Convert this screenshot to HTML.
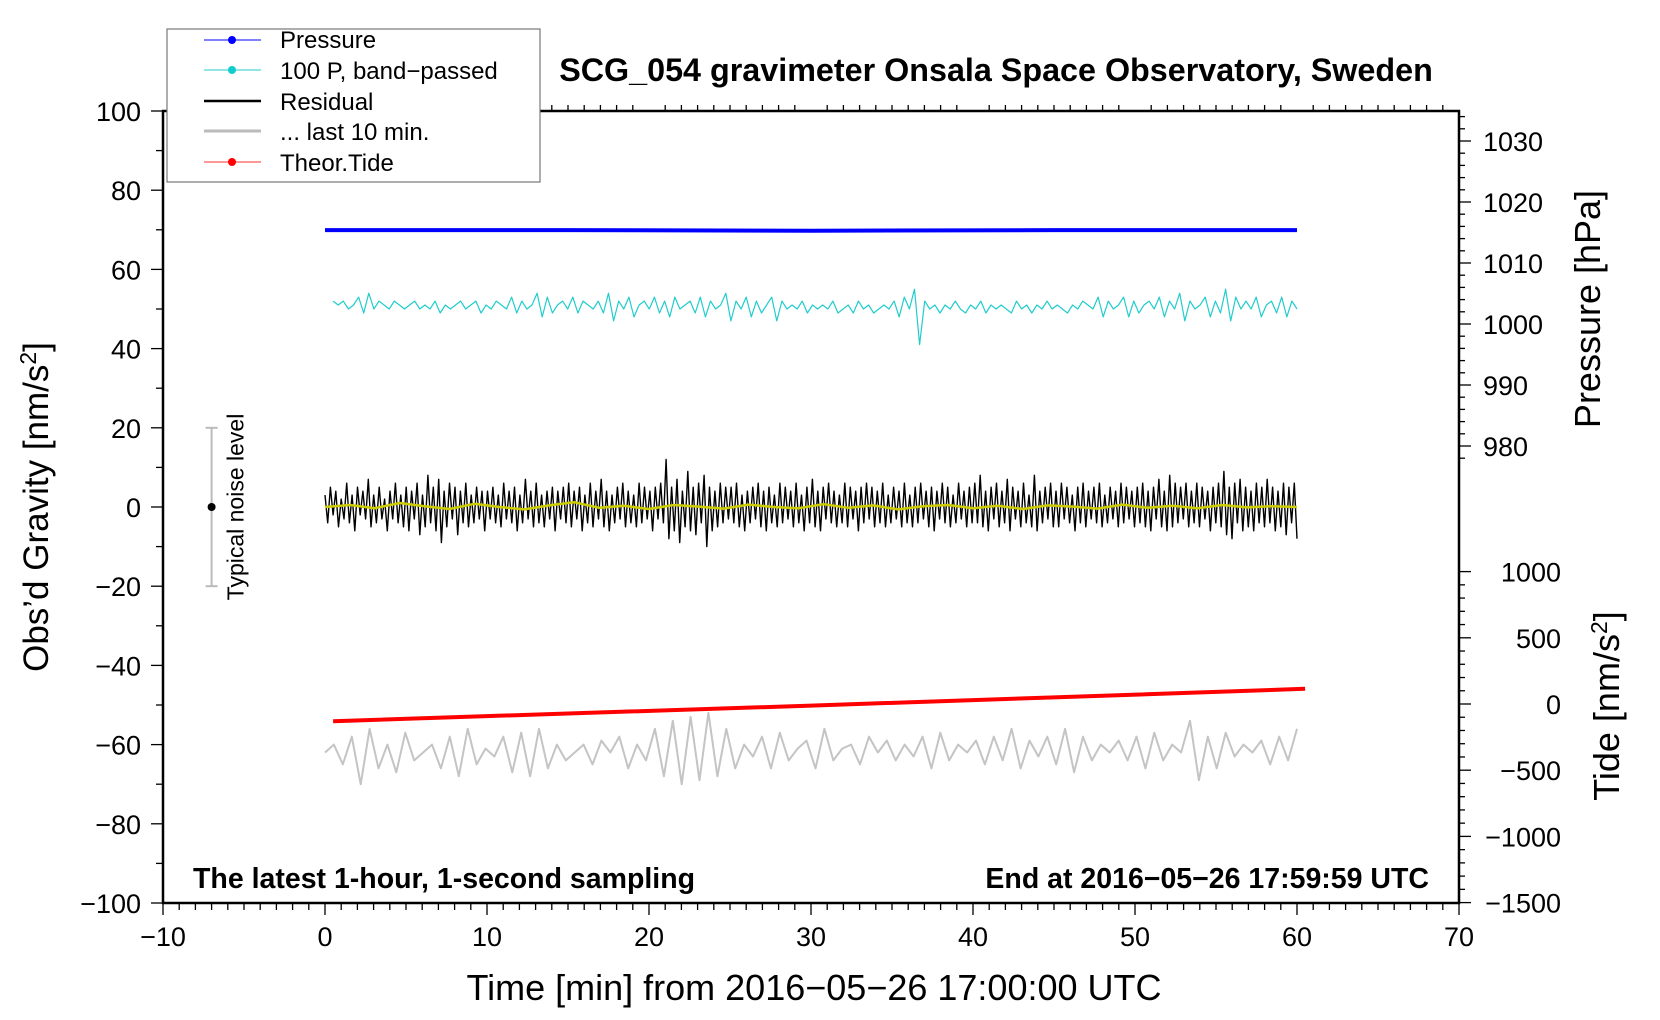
<!DOCTYPE html>
<html><head><meta charset="utf-8">
<style>
html,body{margin:0;padding:0;background:#fff;}
svg{display:block;font-family:"Liberation Sans",Arial,sans-serif;}
</style></head>
<body>
<svg id="chart" width="1660" height="1020" viewBox="0 0 1660 1020" xmlns="http://www.w3.org/2000/svg">
<rect x="0" y="0" width="1660" height="1020" fill="#fff"/>
<g id="marks"></g>
<g id="axes"></g>
<text x="996" y="81" text-anchor="middle" font-size="32.3" font-weight="bold">SCG_054 gravimeter Onsala Space Observatory, Sweden</text>
<text x="193" y="888" font-size="28.5" font-weight="bold">The latest 1-hour, 1-second sampling</text>
<text x="1429" y="888" text-anchor="end" font-size="28.5" font-weight="bold">End at 2016−05−26 17:59:59 UTC</text>
<text x="814" y="1000" text-anchor="middle" font-size="36">Time [min] from 2016−05−26 17:00:00 UTC</text>
<text transform="translate(48,507) rotate(-90)" text-anchor="middle" font-size="35">Obs’d Gravity [nm/s<tspan font-size="23" dy="-12">2</tspan><tspan dy="12">]</tspan></text>
<text transform="translate(1600,309) rotate(-90)" text-anchor="middle" font-size="36">Pressure [hPa]</text>
<text transform="translate(1619,706) rotate(-90)" text-anchor="middle" font-size="36">Tide [nm/s<tspan font-size="23" dy="-12">2</tspan><tspan dy="12">]</tspan></text>
<g>
<rect x="167" y="29" width="373" height="153" fill="#fff" stroke="#777" stroke-width="1.2"/>
<line x1="204" y1="40" x2="261" y2="40" stroke="#00f" stroke-width="1"/><circle cx="232" cy="40" r="4" fill="#00f"/>
<text x="280" y="48" font-size="24">Pressure</text>
<line x1="204" y1="70" x2="261" y2="70" stroke="#2cc" stroke-width="1"/><circle cx="232" cy="70" r="4" fill="#1cc"/>
<text x="280" y="79" font-size="24">100 P, band−passed</text>
<line x1="204" y1="101" x2="261" y2="101" stroke="#000" stroke-width="2.5"/>
<text x="280" y="110" font-size="24">Residual</text>
<line x1="204" y1="131" x2="261" y2="131" stroke="#bbb" stroke-width="3"/>
<text x="280" y="140" font-size="24">... last 10 min.</text>
<line x1="204" y1="162" x2="261" y2="162" stroke="#f33" stroke-width="1"/><circle cx="232" cy="162" r="4" fill="#f00"/>
<text x="280" y="171" font-size="24">Theor.Tide</text>
</g>
<g>
<line id="nl" stroke="#bbb" stroke-width="2"/>
<line id="nlt" stroke="#bbb" stroke-width="2"/>
<line id="nlb" stroke="#bbb" stroke-width="2"/>
<circle id="nld" r="4" fill="#000"/>
<text id="nltext" font-size="23" text-anchor="middle">Typical noise level</text>
</g>
</svg>
<script>
const xTicks=[-10,0,10,20,30,40,50,60,70];
const yTicks=[100,80,60,40,20,0,-20,-40,-60,-80,-100];
const pTicks=[980,990,1000,1010,1020,1030];
const tideTicks=[1000,500,0,-500,-1000,-1500];
const pressureT=[0,15,30,45,60];
const pressureV=[1015.4,1015.4,1015.3,1015.4,1015.4];
const tideT=[0.5,15,30,45,60.5];
const tideV=[-130,-72,-12,50,115];
const residual=[3,-4,5,-2,4,-5,2,-3,6,-4,3,-6,5,-2,4,-3,7,-5,3,-4,5,-3,2,-6,4,-3,6,-4,3,-5,
5,-6,4,-3,6,-7,3,-5,8,-4,5,-6,7,-9,4,-5,6,-3,5,-7,4,-4,6,-5,3,-4,5,-3,4,-6,
4,-3,5,-4,3,-5,6,-3,4,-4,5,-6,3,-4,7,-3,4,-5,6,-4,3,-5,4,-3,5,-6,4,-3,5,-4,
6,-5,4,-3,5,-6,3,-4,6,-5,4,-3,7,-5,4,-6,3,-4,5,-3,6,-5,4,-4,3,-5,6,-4,5,-3,
4,-6,5,-3,6,-4,12,-8,5,-6,7,-9,4,-5,9,-6,5,-7,6,-4,8,-10,5,-6,4,-5,6,-4,5,-3,
5,-4,6,-5,3,-6,4,-4,5,-3,6,-5,4,-6,5,-4,3,-5,6,-4,5,-3,4,-5,6,-4,3,-6,5,-4,
7,-5,4,-6,5,-3,6,-4,4,-5,3,-4,6,-5,5,-3,4,-6,5,-4,6,-3,5,-5,4,-4,6,-5,3,-4,
5,-3,4,-5,6,-4,3,-5,5,-4,6,-3,4,-5,5,-6,4,-3,6,-4,5,-5,3,-4,6,-3,4,-5,5,-4,
6,-4,8,-5,4,-6,5,-3,6,-5,4,-4,7,-6,5,-3,4,-5,6,-4,3,-5,8,-6,4,-4,5,-3,6,-5,
4,-5,6,-3,5,-4,3,-6,5,-4,6,-5,4,-3,5,-4,6,-5,3,-4,5,-3,4,-5,6,-4,5,-3,4,-5,
5,-4,6,-5,4,-6,5,-3,7,-5,4,-6,8,-5,6,-4,5,-3,6,-5,4,-4,6,-5,5,-3,4,-6,5,-4,
6,-5,9,-7,5,-8,6,-4,7,-6,5,-5,4,-6,6,-4,5,-5,7,-4,5,-6,4,-5,6,-7,5,-4,6,-8];
const smoothRes=[0,0.5,-0.3,1,0.2,-0.5,0.8,0,-0.6,0.4,1.2,-0.2,0.3,-0.5,0.5,0.1,-0.4,0.6,0,-0.3,0.7,-0.2,0.4,-0.6,0.2,0.5,-0.3,0.3,-0.5,0.4,0.1,-0.4,0.6,-0.2,0.3,-0.3,0.5,-0.1,0.2,0];
const bandPassed=[52,51,52,50,51,53,49,54,50,52,51,50,52,51,50,51,52,50,51,50,52,49,51,50,51,52,50,51,52,49,
51,50,52,51,50,53,49,52,50,51,54,48,53,49,51,52,50,53,49,52,51,50,52,49,54,47,52,50,53,48,
51,52,50,53,49,52,48,53,50,51,52,49,53,48,52,50,51,54,47,52,50,53,48,52,49,51,53,47,52,50,
51,50,52,49,51,50,51,50,52,49,50,51,49,52,50,51,49,50,51,50,52,48,53,50,55,41,52,50,51,49,
51,50,52,50,49,51,50,52,49,51,50,51,50,49,52,50,51,49,51,50,52,50,51,50,49,51,50,52,51,50,
53,48,52,50,51,53,48,52,49,51,52,50,53,48,52,50,54,47,52,50,51,53,48,52,49,55,47,53,50,52,
50,53,48,51,52,49,53,48,52,50];
const last10=[-62,-60,-65,-58,-70,-56,-66,-60,-67,-57,-64,-62,-60,-66,-58,-68,-56,-65,-61,-63,
-58,-67,-57,-68,-56,-66,-60,-64,-62,-60,-65,-59,-62,-58,-66,-60,-64,-56,-68,-54,
-70,-53,-69,-52,-68,-56,-66,-60,-63,-58,-66,-57,-64,-61,-59,-66,-56,-64,-61,-60,
-65,-58,-62,-59,-64,-60,-63,-58,-66,-57,-64,-60,-62,-59,-65,-58,-64,-56,-66,-59,
-63,-58,-65,-56,-67,-58,-64,-60,-62,-59,-64,-58,-66,-57,-64,-60,-62,-54,-69,-58,
-66,-57,-63,-60,-62,-59,-65,-58,-64,-56];

const L=163,R=1459,T=111,B=903;
const xs=t=>L+(t+10)*(R-L)/80;
const ys=v=>T+(100-v)*(B-T)/200;
const ps=p=>141+(1030-p)*6.1;
const ts=v=>704-v*0.1324;
const NS='http://www.w3.org/2000/svg';
const marks=document.getElementById('marks'), axes=document.getElementById('axes');
function mk(tag,attrs,parent){const e=document.createElementNS(NS,tag);for(const k in attrs)e.setAttribute(k,attrs[k]);parent.appendChild(e);return e;}
function series(vals,t0,t1){return vals.map((v,i)=>[t0+(t1-t0)*i/(vals.length-1),v]);}
function poly(pts,fx,fy,stroke,w,name){
  const p=mk('polyline',{points:pts.map(q=>fx(q[0]).toFixed(1)+','+fy(q[1]).toFixed(1)).join(' '),fill:'none',stroke:stroke,'stroke-width':w,'stroke-linejoin':'round'},marks);
  
  
}
poly(pressureT.map((t,i)=>[t,pressureV[i]]),xs,ps,'#0000ff',4,'pressure-line');
poly(series(bandPassed,0.5,60),xs,ys,'#22cccc',1.2,'bandpassed-pressure-line');
poly(series(residual,0,60),xs,ys,'#000',1.4,'residual-line');
poly(series(smoothRes,0,60),xs,ys,'#cccc00',2.5,'residual-smoothed-line');
poly(tideT.map((t,i)=>[t,tideV[i]]),xs,ts,'#ff0000',4,'tide-line');
poly(series(last10,0,60),xs,ys,'#c4c4c4',2,'last-10-min-line');

const fr=mk('rect',{x:L,y:T,width:R-L,height:B-T,fill:'none',stroke:'#000','stroke-width':2.5},axes);


function tk(x1,y1,x2,y2,w){mk('line',{x1,y1,x2,y2,stroke:'#000','stroke-width':w},axes);}
for(let t=-10;t<=70;t+=1){const x=xs(t);const major=t%10===0;
  tk(x,B,x,B+(major?12:7),1.3); tk(x,T,x,T-(major?0:6),1.3);}
xTicks.forEach(t=>{const e=mk('text',{x:xs(t),y:946,'text-anchor':'middle','font-size':27},axes);e.textContent=String(t).replace('-','−');
  
  });
for(let v=-100;v<=100;v+=10){const y=ys(v);tk(L,y,L-(v%20===0?12:7),y,1.3);}
yTicks.forEach(v=>{const e=mk('text',{x:141,y:ys(v)+10,'text-anchor':'end','font-size':27},axes);e.textContent=String(v).replace('-','−');
  
  });
for(let p=976;p<=1044;p+=2){const y=ps(p);if(y<T||y>470)continue;tk(R,y,R+(p%10===0?12:6),y,1.3);}
pTicks.forEach(p=>{const e=mk('text',{x:1483,y:ps(p)+10,'font-size':27},axes);e.textContent=p;
  
  });
for(let v=-1500;v<=1000;v+=100){const y=ts(v);tk(R,y,R+(v%500===0?12:6),y,1.3);}
tideTicks.forEach(v=>{const e=mk('text',{x:1561,y:ts(v)+10,'text-anchor':'end','font-size':27},axes);e.textContent=String(v).replace('-','−');
  
  });
const nx=xs(-7);
Object.entries({nl:[nx,ys(20),nx,ys(-20)],nlt:[nx-6,ys(20),nx+6,ys(20)],nlb:[nx-6,ys(-20),nx+6,ys(-20)]}).forEach(([id,c])=>{const e=document.getElementById(id);e.setAttribute('x1',c[0]);e.setAttribute('y1',c[1]);e.setAttribute('x2',c[2]);e.setAttribute('y2',c[3]);});
const d=document.getElementById('nld');d.setAttribute('cx',nx);d.setAttribute('cy',ys(0));
const nt=document.getElementById('nltext');nt.setAttribute('transform','translate('+(nx+32)+','+ys(0)+') rotate(-90)');
</script>
</body></html>
